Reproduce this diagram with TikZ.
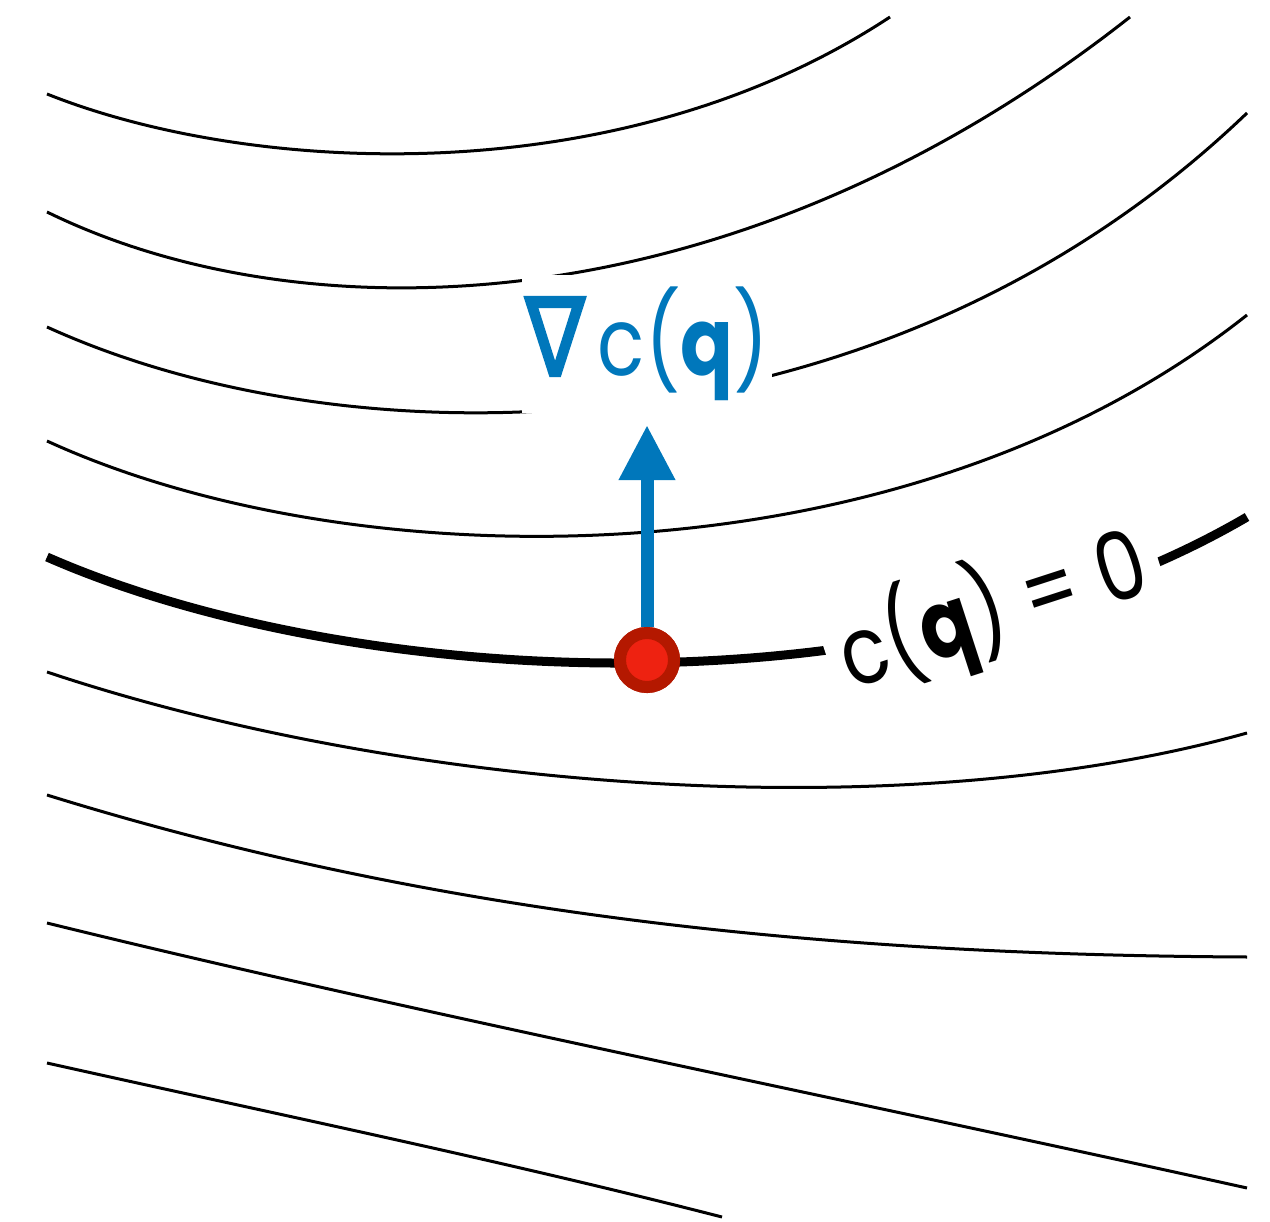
\documentclass[tikz,border=0pt]{standalone}
\usepackage{fontspec}
\usepackage{graphicx}
\setmainfont{Poppins}
\newfontfamily\symfont[FakeBold=2.5]{DejaVu Sans}
\usetikzlibrary{arrows.meta}
\definecolor{gradblue}{RGB}{0,119,187}
\definecolor{dotred}{RGB}{238,34,17}
\definecolor{dotring}{RGB}{180,24,0}
\tikzset{
  level/.style={line width=0.03cm, black},
  zerolevel/.style={line width=0.09cm, black},
  masklabel/.style={fill=white, inner sep=0pt, font=\fontsize{27}{31}\selectfont},
  pointdot/.style={circle, fill=dotred, draw=dotring, line width=0.12cm, minimum size=0.54cm, inner sep=0pt},
}
\begin{document}
\begin{tikzpicture}[x=0.01cm,y=-0.01cm]
\useasboundingbox (0,0) rectangle (1270,1222);
% level curves
\draw[level] (47,94) .. controls (250,175) and (620,195) .. (890,17);
\draw[level] (47,212) .. controls (300,336) and (730,332) .. (1130,17);
\draw[level] (47,327) .. controls (350,465) and (880,465) .. (1247,113);
\draw[level] (47,441) .. controls (350,580) and (900,590) .. (1247,315);
\draw[zerolevel] (47,557) .. controls (350,690) and (900,720) .. (1247,517);
\draw[level] (47,672) .. controls (400,790) and (900,830) .. (1247,733);
\draw[level] (47,795) .. controls (450,920) and (850,955) .. (1247,957);
\draw[level] (47,923) .. controls (400,1010) and (850,1100) .. (1247,1188);
\draw[level] (47,1063) .. controls (280,1115) and (500,1160) .. (722,1217);
% labels with white masks
\node[masklabel, text=gradblue, minimum width=2.5cm, minimum height=1.38cm] (grad) at (647,344)
  {\scalebox{0.82}[1]{{\symfont\fontsize{31}{31}\selectfont ∇}\,c(\textbf{q})}};
\node[masklabel, rotate=18, minimum width=3.45cm, minimum height=1.2cm] (zero) at (993,610)
  {\scalebox{0.82}[1]{c(\textbf{q}) = 0}};
% gradient arrow and point
\coordinate (tip) at (647,425);
\node[pointdot] (q) at (647,660) {};
\draw[gradblue, line width=0.13cm, -{Triangle[length=0.55cm, width=0.53cm]}] (q.north) -- (tip);
\node[pointdot] at (q) {};
\end{tikzpicture}
\end{document}
